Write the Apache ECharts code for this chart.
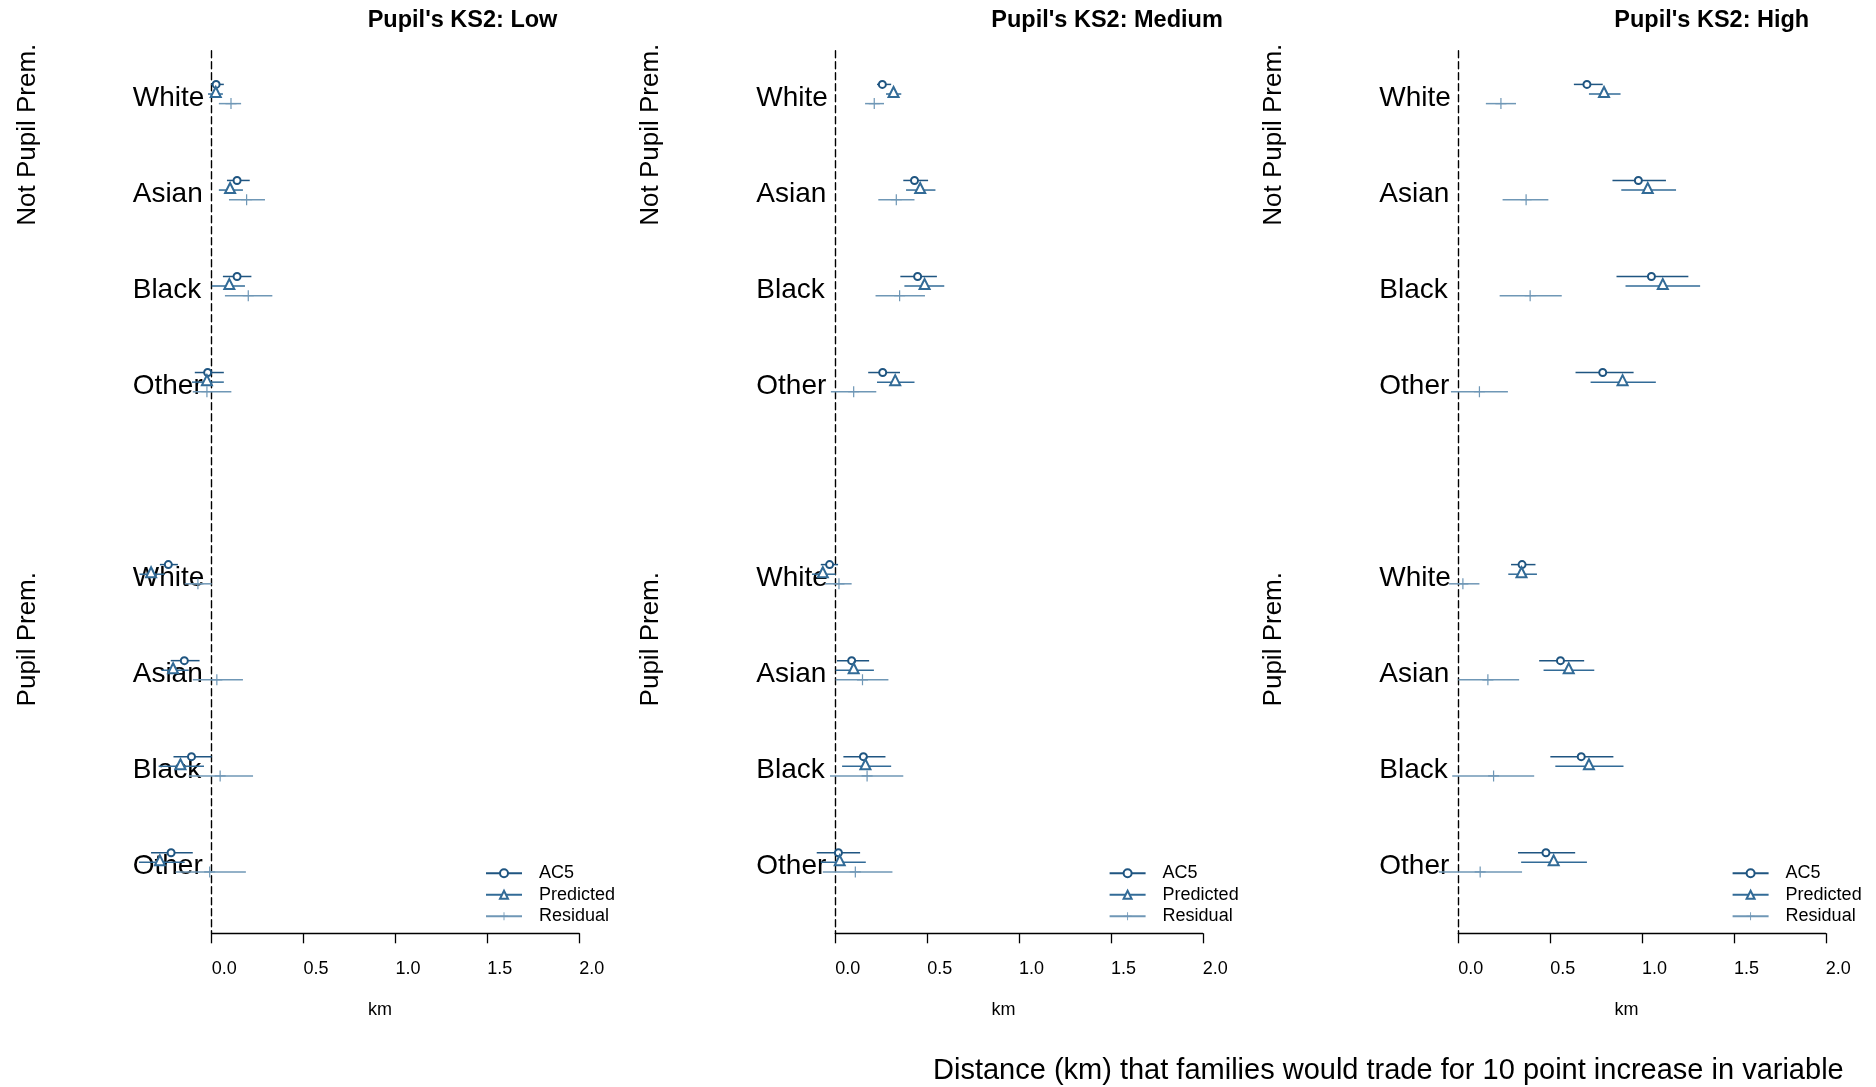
<!DOCTYPE html>
<html>
<head>
<meta charset="utf-8">
<script src="https://cdn.jsdelivr.net/npm/echarts@6/dist/echarts.min.js"></script>
<style>
  html, body { margin: 0; padding: 0; background: #ffffff; }
  #chart { width: 1876px; height: 1087px; }
</style>
</head>
<body>
<div id="chart"></div>
<script>
// Panel titles and row labels
const panelTitles = ["Pupil's KS2: Low", "Pupil's KS2: Medium", "Pupil's KS2: High"];
const ethnicGroups = ['White', 'Asian', 'Black', 'Other'];
const premiumGroups = ['Not Pupil Prem.', 'Pupil Prem.'];
// Vertical slot of each row (slot 4 is the gap between the two blocks)
const rowSlots = [0, 1, 2, 3, 5, 6, 7, 8];
const xTickValues = [0, 0.5, 1, 1.5, 2];
const measureNames = ['AC5', 'Predicted', 'Residual'];

// Each entry: [estimate, lower, upper] in km.
// Row order: Not Pupil Prem. White, Asian, Black, Other, then Pupil Prem. White, Asian, Black, Other
const lowAC5 = [
  [0.024, -0.004, 0.066], [0.138, 0.083, 0.207], [0.138, 0.061, 0.216], [-0.022, -0.092, 0.066],
  [-0.236, -0.282, -0.184], [-0.149, -0.223, -0.066], [-0.110, -0.208, 0.000], [-0.221, -0.330, -0.103]
];
const lowPredicted = [
  [0.022, -0.020, 0.061], [0.100, 0.039, 0.170], [0.096, 0.000, 0.181], [-0.026, -0.107, 0.066],
  [-0.330, -0.393, -0.256], [-0.210, -0.273, -0.125], [-0.170, -0.289, -0.042], [-0.282, -0.396, -0.147]
];
const lowResidual = [
  [0.105, 0.039, 0.160], [0.190, 0.094, 0.290], [0.199, 0.072, 0.330], [-0.026, -0.103, 0.107],
  [-0.075, -0.147, 0.000], [0.028, -0.103, 0.170], [0.046, -0.125, 0.225], [-0.011, -0.197, 0.186]
];
const mediumAC5 = [
  [0.256, 0.227, 0.304], [0.431, 0.370, 0.505], [0.448, 0.354, 0.553], [0.258, 0.179, 0.352],
  [-0.031, -0.079, 0.015], [0.089, 0.009, 0.184], [0.153, 0.044, 0.273], [0.017, -0.101, 0.135]
];
const mediumPredicted = [
  [0.317, 0.276, 0.359], [0.462, 0.385, 0.545], [0.486, 0.376, 0.593], [0.326, 0.227, 0.431],
  [-0.068, -0.127, 0.002], [0.100, 0.002, 0.210], [0.164, 0.037, 0.304], [0.024, -0.079, 0.166]
];
const mediumResidual = [
  [0.212, 0.162, 0.265], [0.332, 0.234, 0.431], [0.350, 0.219, 0.488], [0.100, -0.024, 0.223],
  [0.020, -0.057, 0.089], [0.148, 0.002, 0.289], [0.173, -0.029, 0.370], [0.109, -0.068, 0.311]
];
const highAC5 = [
  [0.700, 0.629, 0.786], [0.980, 0.839, 1.130], [1.051, 0.861, 1.252], [0.786, 0.638, 0.954],
  [0.347, 0.287, 0.420], [0.556, 0.440, 0.685], [0.669, 0.501, 0.844], [0.477, 0.325, 0.636]
];
const highPredicted = [
  [0.793, 0.711, 0.883], [1.031, 0.887, 1.185], [1.113, 0.910, 1.316], [0.894, 0.720, 1.075],
  [0.344, 0.272, 0.428], [0.601, 0.464, 0.740], [0.711, 0.528, 0.899], [0.519, 0.342, 0.700]
];
const highResidual = [
  [0.232, 0.150, 0.314], [0.369, 0.241, 0.490], [0.391, 0.225, 0.563], [0.115, -0.040, 0.270],
  [0.025, -0.050, 0.115], [0.161, 0.000, 0.331], [0.192, -0.033, 0.413], [0.119, -0.106, 0.347]
];

const panelData = [
  [lowAC5, lowPredicted, lowResidual],
  [mediumAC5, mediumPredicted, mediumResidual],
  [highAC5, highPredicted, highResidual]
];

// ---- styling / layout ----
const FONT = '"Liberation Sans", Arial, Helvetica, sans-serif';
const measureColors = ['#1f5581', '#326b97', '#6f97b6'];
const measureOffsets = [-0.1, 0, 0.1];   // circle above, plus below the triangle
const labelDrop = 0.045;                 // row labels sit slightly below the triangle line
const plusPath = 'path://M4.45,0H5.55V4.45H10V5.55H5.55V10H4.45V5.55H0V4.45H4.45Z';
const measureSymbols = ['emptyCircle', 'emptyTriangle', plusPath];
const measureSymbolSize = [7, 10, 11];
const measureSymbolOffset = [[0, 0], [0, -2], [0, 0]];
const measureBorder = [1.4, 1.4, 0];

const panelZeroX = [211.7, 835.3, 1458.3];  // pixel of x = 0 in each panel
const panelWidth = 367.5;                   // pixels spanning 0 .. 2 km
const plotTop = 50.7;
const plotBottom = 933.3;

const rowNames = rowSlots.map((s, i) => ethnicGroups[i % 4]);
const labelValues = rowSlots.map(s => s + labelDrop);

const chart = echarts.init(document.getElementById('chart'), null, { renderer: 'canvas' });

const grids = [], xAxes = [], yAxes = [], series = [], titles = [], legends = [], graphics = [];

panelZeroX.forEach((zx, p) => {
  grids.push({ left: zx, width: panelWidth, top: plotTop, height: plotBottom - plotTop, containLabel: false });

  xAxes.push({
    type: 'value', gridIndex: p, min: 0, max: 2, interval: 0.5,
    axisLine: { show: true, onZero: false, lineStyle: { color: '#000', width: 1.3 } },
    axisTick: { show: true, length: 10, lineStyle: { color: '#000', width: 1.3 } },
    axisLabel: {
      customValues: xTickValues,
      formatter: v => Number(v).toFixed(1),
      align: 'left', margin: 27, fontSize: 18, color: '#000', fontFamily: FONT
    },
    splitLine: { show: false },
    name: 'km', nameLocation: 'middle', nameGap: 68,
    nameTextStyle: { fontSize: 18, color: '#000', fontFamily: FONT, padding: [0, 31, 0, 0] }
  });

  yAxes.push({
    type: 'value', gridIndex: p, inverse: true, min: -0.451, max: 8.739,
    axisLine: { show: true, onZero: false, lineStyle: { color: '#000', width: 1.4, type: [7, 4] } },
    axisTick: { show: false },
    splitLine: { show: false },
    axisLabel: {
      customValues: labelValues,
      formatter: v => rowNames[rowSlots.indexOf(Math.round(v))],
      align: 'left', margin: 79, fontSize: 28, color: '#000', fontFamily: FONT
    }
  });

  titles.push({
    text: panelTitles[p], left: zx + 156, top: 9, padding: 0,
    textStyle: { fontSize: 23.5, fontWeight: 'bold', color: '#000', fontFamily: FONT }
  });

  legends.push({
    data: measureNames, orient: 'vertical', left: zx + 273.3, top: 862.5, padding: 0,
    itemWidth: 36, itemHeight: 10, itemGap: 0, selectedMode: false,
    textStyle: { fontSize: 18, lineHeight: 21.5, color: '#000', fontFamily: FONT, padding: [0, 0, 0, 12] }
  });

  // block labels on the left of each panel
  premiumGroups.forEach((g, k) => {
    graphics.push({
      type: 'text', x: zx - 184, y: k === 0 ? 134.7 : 639.2, rotation: Math.PI / 2,
      style: { text: g, fontSize: 26, fill: '#000', fontFamily: FONT, align: 'center', verticalAlign: 'middle' }
    });
  });

  panelData[p].forEach((rows, m) => {
    const color = measureColors[m];
    const off = measureOffsets[m];
    // interval whiskers
    series.push({
      type: 'custom', name: measureNames[m] + ' interval', xAxisIndex: p, yAxisIndex: p,
      clip: false, silent: true, z: 2,
      encode: { x: [0, 1, 2], y: 3 },
      data: rows.map((r, i) => [r[0], r[1], r[2], rowSlots[i] + off]),
      renderItem: (params, api) => {
        const a = api.coord([api.value(1), api.value(3)]);
        const b = api.coord([api.value(2), api.value(3)]);
        return {
          type: 'line',
          shape: { x1: a[0], y1: a[1], x2: b[0], y2: b[1] },
          style: { stroke: color, lineWidth: 1.5 }
        };
      }
    });
    // point estimates (isolated points, so no connecting line is drawn)
    const pts = [];
    rows.forEach((r, i) => { pts.push([r[0], rowSlots[i] + off]); pts.push(['-', '-']); });
    series.push({
      type: 'line', name: measureNames[m], xAxisIndex: p, yAxisIndex: p,
      clip: false, silent: true, z: 3, connectNulls: false,
      data: pts,
      symbol: measureSymbols[m], symbolSize: measureSymbolSize[m], symbolOffset: measureSymbolOffset[m],
      showSymbol: true, showAllSymbol: true,
      lineStyle: { color: color, width: 1.5 },
      itemStyle: { color: color, borderColor: color, borderWidth: measureBorder[m] }
    });
  });
});

graphics.push({
  type: 'text', x: 933, y: 1071,
  style: {
    text: 'Distance (km) that families would trade for 10 point increase in variable',
    fontSize: 29, fill: '#000', fontFamily: FONT, align: 'left', verticalAlign: 'middle'
  }
});

chart.setOption({
  backgroundColor: '#ffffff',
  animation: false,
  title: titles,
  legend: legends,
  grid: grids,
  xAxis: xAxes,
  yAxis: yAxes,
  series: series,
  graphic: graphics,
  tooltip: { show: false }
});
</script>
</body>
</html>
